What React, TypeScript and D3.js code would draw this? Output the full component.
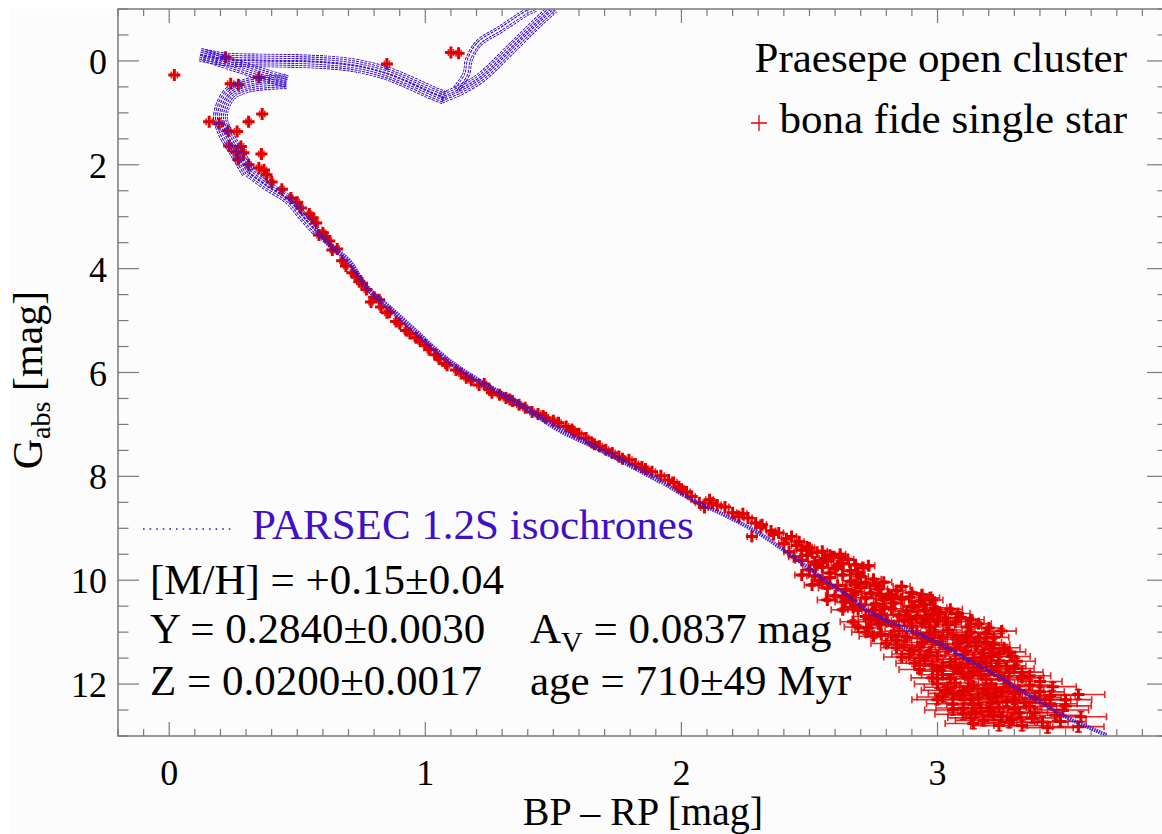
import React from "react";
import * as d3 from "d3";

const width = 1162;
const height = 834;
const plot = { left: 118, top: 9, right: 1168, bottom: 736 };

const xTicks = [0, 1, 2, 3];
const yTicks = [0, 2, 4, 6, 8, 10, 12];

// PARSEC isochrone band, pieces of [BP-RP, G_abs]
const isoLowerMS = [[3.66, 12.98], [3.5, 12.63], [3.37, 12.25], [3.2, 11.75], [3.07, 11.4], [2.98, 11.15], [2.86, 10.9], [2.74, 10.63], [2.65, 10.3], [2.56, 9.99], [2.45, 9.6], [2.3, 9.09], [2.17, 8.75], [2.04, 8.45], [1.92, 8.1]];
const isoMidMS = [[1.92, 8.1], [1.784, 7.74], [1.65, 7.4], [1.522, 7.1], [1.417, 6.76], [1.32, 6.47], [1.222, 6.2], [1.12, 5.88], [1.027, 5.51], [0.964, 5.22], [0.87, 4.8], [0.769, 4.35], [0.7, 3.85], [0.64, 3.6], [0.574, 3.28]];
const isoUpperMS = [[0.574, 3.28], [0.52, 2.98], [0.468, 2.68], [0.38, 2.4], [0.31, 2.15]];
const isoTurnoff = [[0.31, 2.15], [0.265, 1.77], [0.22, 1.4], [0.2, 1.1], [0.21, 0.85], [0.24, 0.62], [0.3, 0.48], [0.38, 0.42], [0.46, 0.4]];
const isoHook = [[0.46, 0.4], [0.36, 0.25], [0.24, 0.06], [0.13, -0.12]];
const isoSubgiant = [[0.12, -0.12], [0.22, -0.03], [0.35, -0.01], [0.48, 0.0], [0.62, 0.03], [0.74, 0.1], [0.85, 0.24], [0.94, 0.42], [1.02, 0.6], [1.08, 0.72]];
const isoRgb = [[1.06, 0.72], [1.14, 0.55], [1.22, 0.31], [1.33, -0.21], [1.42, -0.65], [1.5, -1.02]];
const isoAgb = [[1.12, 0.55], [1.16, 0.25], [1.17, -0.02], [1.21, -0.35], [1.29, -0.6], [1.4, -0.95], [1.43, -1.02]];

// stars: [BP-RP, G_abs, err BP-RP, err G]
const turnoffStars = [
  [0.02, 0.27, 0.012, 0.004], [0.22, -0.07, 0.01, 0.004], [0.85, 0.06, 0.01, 0.004], [0.35, 0.32, 0.01, 0.004],
  [0.24, 0.44, 0.012, 0.004], [0.27, 0.46, 0.012, 0.004], [1.1, -0.16, 0.01, 0.004], [1.13, -0.15, 0.01, 0.004],
  [0.363, 1.02, 0.01, 0.004], [0.156, 1.17, 0.012, 0.004], [0.195, 1.21, 0.012, 0.004], [0.31, 1.17, 0.01, 0.004],
  [0.23, 1.35, 0.01, 0.004], [0.265, 1.36, 0.01, 0.004], [0.234, 1.64, 0.01, 0.004], [0.28, 1.65, 0.01, 0.004],
  [0.26, 1.75, 0.01, 0.004], [0.29, 1.77, 0.01, 0.004], [0.36, 1.79, 0.01, 0.004], [0.27, 1.9, 0.01, 0.004],
  [0.31, 2.0, 0.01, 0.004], [0.37, 2.1, 0.01, 0.004], [0.35, 2.06, 0.01, 0.004], [0.38, 2.19, 0.01, 0.004],
];

const upperMsStars = [
  [0.4, 2.33, 0.008, 0.004], [0.44, 2.47, 0.008, 0.004], [0.475, 2.64, 0.008, 0.004], [0.5, 2.72, 0.008, 0.004],
  [0.515, 2.83, 0.008, 0.004], [0.547, 2.95, 0.008, 0.004], [0.56, 3.02, 0.008, 0.004], [0.574, 3.12, 0.008, 0.004],
  [0.585, 3.35, 0.008, 0.004], [0.6, 3.31, 0.008, 0.004], [0.61, 3.38, 0.008, 0.004], [0.625, 3.47, 0.008, 0.004],
  [0.637, 3.64, 0.008, 0.004], [0.656, 3.62, 0.008, 0.004], [0.675, 3.85, 0.008, 0.004], [0.69, 3.95, 0.008, 0.004],
  [0.715, 4.08, 0.008, 0.004], [0.73, 4.15, 0.008, 0.004], [0.742, 4.25, 0.008, 0.004], [0.753, 4.28, 0.008, 0.004],
  [0.77, 4.4, 0.008, 0.004], [0.788, 4.64, 0.008, 0.004], [0.8, 4.55, 0.008, 0.004], [0.82, 4.6, 0.008, 0.004],
  [0.827, 4.74, 0.008, 0.004], [0.85, 4.85, 0.008, 0.004], [0.86, 4.84, 0.008, 0.004], [0.886, 5.02, 0.008, 0.004],
  [0.9, 5.06, 0.008, 0.004], [0.925, 5.19, 0.008, 0.004], [0.94, 5.25, 0.008, 0.004], [0.964, 5.33, 0.008, 0.004],
  [0.98, 5.4, 0.008, 0.004], [1.0, 5.47, 0.008, 0.004], [1.015, 5.56, 0.008, 0.004], [1.04, 5.66, 0.008, 0.004],
  [1.054, 5.74, 0.008, 0.004], [1.08, 5.82, 0.008, 0.004], [1.085, 5.86, 0.008, 0.004], [1.12, 5.95, 0.008, 0.004],
];

const lowerMsStars = [
  [1.14, 6.02, 0.009, 0.004], [1.16, 6.1, 0.009, 0.004], [1.18, 6.15, 0.009, 0.004], [1.21, 6.24, 0.009, 0.004],
  [1.23, 6.22, 0.009, 0.004], [1.25, 6.33, 0.009, 0.004], [1.26, 6.39, 0.009, 0.004], [1.29, 6.43, 0.009, 0.004],
  [1.315, 6.49, 0.009, 0.004], [1.33, 6.52, 0.009, 0.004], [1.34, 6.55, 0.009, 0.004], [1.366, 6.62, 0.009, 0.005],
  [1.39, 6.68, 0.009, 0.005], [1.417, 6.76, 0.009, 0.005], [1.44, 6.8, 0.01, 0.005], [1.46, 6.84, 0.01, 0.005],
  [1.47, 6.87, 0.01, 0.005], [1.5, 6.93, 0.01, 0.005], [1.52, 6.97, 0.01, 0.005], [1.55, 7.04, 0.01, 0.005],
  [1.573, 7.1, 0.01, 0.005], [1.58, 7.14, 0.01, 0.005], [1.6, 7.18, 0.01, 0.005], [1.628, 7.26, 0.01, 0.005],
  [1.65, 7.35, 0.011, 0.005], [1.66, 7.38, 0.011, 0.005], [1.68, 7.42, 0.011, 0.005], [1.705, 7.49, 0.011, 0.005],
  [1.73, 7.55, 0.011, 0.005], [1.756, 7.62, 0.012, 0.006], [1.77, 7.66, 0.012, 0.006], [1.795, 7.68, 0.012, 0.006],
  [1.82, 7.76, 0.012, 0.006], [1.846, 7.82, 0.012, 0.006], [1.86, 7.86, 0.012, 0.006], [1.885, 7.91, 0.013, 0.006],
  [1.92, 7.99, 0.013, 0.006], [1.95, 8.07, 0.013, 0.006], [1.97, 8.12, 0.013, 0.006], [1.99, 8.2, 0.014, 0.007],
  [2.0, 8.25, 0.014, 0.007], [2.02, 8.3, 0.014, 0.007], [2.04, 8.39, 0.014, 0.007], [2.07, 8.51, 0.015, 0.007],
  [2.09, 8.6, 0.015, 0.007], [2.11, 8.45, 0.015, 0.007], [2.12, 8.52, 0.015, 0.007], [2.14, 8.55, 0.015, 0.008],
  [2.17, 8.59, 0.015, 0.008], [2.2, 8.7, 0.016, 0.008], [2.225, 8.78, 0.016, 0.008], [2.24, 8.72, 0.016, 0.008],
  [2.26, 8.8, 0.016, 0.008], [2.29, 8.9, 0.017, 0.009], [2.31, 8.98, 0.017, 0.009], [2.315, 8.93, 0.017, 0.009],
  [2.35, 9.05, 0.018, 0.01], [2.36, 9.12, 0.018, 0.01], [2.38, 9.09, 0.018, 0.01], [2.275, 9.16, 0.018, 0.01],
  [2.41, 9.2, 0.019, 0.01], [2.43, 9.16, 0.019, 0.01], [2.46, 9.26, 0.019, 0.011], [2.49, 9.36, 0.02, 0.012],
  [2.51, 9.47, 0.02, 0.012], [2.55, 9.44, 0.02, 0.012], [2.59, 9.55, 0.021, 0.012], [2.62, 9.56, 0.021, 0.012],
  [2.51, 10.09, 0.03, 0.02], [2.63, 10.32, 0.035, 0.02], [2.69, 10.57, 0.04, 0.025],
];

const faintStars = [
  [2.4, 9.3, 0.02, 0.015], [2.45, 9.33, 0.02, 0.015], [2.5, 9.38, 0.02, 0.015], [2.47, 9.42, 0.02, 0.015], [2.53, 9.46, 0.021, 0.015], [2.58, 9.52, 0.021, 0.015], [2.62, 9.5, 0.021, 0.015], [2.42, 9.45, 0.02, 0.015], [2.44, 9.55, 0.021, 0.015],
  [2.49, 9.52, 0.022, 0.016], [2.56, 9.58, 0.022, 0.016], [2.65, 9.6, 0.023, 0.016], [2.73, 9.72, 0.025, 0.018], [2.61, 9.72, 0.025, 0.018], [2.53, 9.7, 0.025, 0.018], [2.69, 9.88, 0.027, 0.02], [2.58, 9.86, 0.027, 0.02], [2.47, 9.9, 0.027, 0.02],
  [2.47, 9.62, 0.025, 0.02], [2.52, 9.65, 0.025, 0.02], [2.57, 9.63, 0.025, 0.02], [2.63, 9.68, 0.025, 0.02], [2.68, 9.7, 0.026, 0.02], [2.55, 9.75, 0.026, 0.02], [2.6, 9.78, 0.026, 0.02], [2.5, 9.8, 0.026, 0.02], [2.71, 9.76, 0.026, 0.02], [2.66, 9.82, 0.027, 0.02],
  [2.52, 9.92, 0.03, 0.02], [2.58, 9.95, 0.03, 0.02], [2.63, 9.9, 0.03, 0.02], [2.7, 9.93, 0.03, 0.02], [2.75, 9.98, 0.03, 0.02], [2.66, 10.02, 0.03, 0.02], [2.72, 10.05, 0.031, 0.022], [2.79, 10.04, 0.031, 0.022], [2.55, 10.06, 0.031, 0.022], [2.61, 10.1, 0.032, 0.022],
  [2.54, 10.0, 0.03, 0.02], [2.68, 10.08, 0.031, 0.022], [2.76, 10.1, 0.032, 0.022], [2.86, 10.12, 0.033, 0.023], [2.82, 10.32, 0.037, 0.026], [2.89, 10.33, 0.037, 0.026], [2.97, 10.34, 0.038, 0.026], [2.68, 10.22, 0.035, 0.024], [2.78, 10.3, 0.036, 0.025], [2.64, 10.42, 0.04, 0.028], [2.57, 10.38, 0.039, 0.027],
  [2.57, 10.15, 0.035, 0.025], [2.64, 10.18, 0.035, 0.025], [2.7, 10.14, 0.035, 0.025], [2.77, 10.17, 0.035, 0.025], [2.84, 10.2, 0.036, 0.025], [2.9, 10.24, 0.036, 0.025], [2.81, 10.27, 0.036, 0.025], [2.74, 10.25, 0.036, 0.025], [2.67, 10.28, 0.037, 0.025], [2.6, 10.3, 0.037, 0.025], [2.94, 10.28, 0.037, 0.025],
  [2.66, 10.38, 0.04, 0.03], [2.72, 10.34, 0.04, 0.03], [2.79, 10.37, 0.04, 0.03], [2.86, 10.36, 0.04, 0.03], [2.93, 10.4, 0.041, 0.03], [2.98, 10.38, 0.041, 0.03], [2.83, 10.44, 0.041, 0.03], [2.76, 10.46, 0.042, 0.03], [2.7, 10.48, 0.042, 0.03], [2.9, 10.5, 0.043, 0.03], [2.95, 10.47, 0.043, 0.03],
];

const blobStars = [
  [2.63, 10.57, 0.045, 0.035], [2.75, 10.58, 0.045, 0.035], [2.82, 10.55, 0.045, 0.035], [2.88, 10.6, 0.046, 0.035], [2.95, 10.58, 0.046, 0.035], [3.01, 10.62, 0.046, 0.035], [3.05, 10.56, 0.047, 0.035], [2.78, 10.66, 0.047, 0.035], [2.85, 10.68, 0.047, 0.035], [2.92, 10.7, 0.048, 0.035], [2.98, 10.67, 0.048, 0.035], [2.72, 10.7, 0.048, 0.035],
  [2.67, 10.52, 0.045, 0.035], [2.79, 10.52, 0.045, 0.035], [2.91, 10.52, 0.045, 0.035], [2.99, 10.53, 0.046, 0.035], [3.08, 10.64, 0.047, 0.036], [3.03, 10.73, 0.048, 0.037], [2.76, 10.74, 0.048, 0.037], [2.89, 10.75, 0.048, 0.037], [2.96, 10.74, 0.048, 0.037], [3.09, 10.72, 0.048, 0.037], [3.16, 10.84, 0.05, 0.04], [2.77, 10.85, 0.05, 0.04], [2.73, 10.92, 0.052, 0.04],
  [2.67, 10.8, 0.05, 0.04], [2.74, 10.76, 0.05, 0.04], [2.8, 10.8, 0.05, 0.04], [2.87, 10.78, 0.05, 0.04], [2.94, 10.82, 0.051, 0.04], [3.0, 10.79, 0.051, 0.04], [3.07, 10.8, 0.051, 0.04], [3.13, 10.76, 0.052, 0.04], [2.83, 10.87, 0.052, 0.04], [2.9, 10.88, 0.052, 0.04], [2.97, 10.9, 0.053, 0.04], [3.04, 10.86, 0.053, 0.04], [3.12, 10.9, 0.053, 0.04], [3.2, 10.92, 0.054, 0.04], [2.69, 10.9, 0.054, 0.04],
  [2.72, 11.0, 0.055, 0.045], [2.78, 11.04, 0.055, 0.045], [2.85, 10.98, 0.055, 0.045], [2.92, 11.02, 0.056, 0.045], [2.99, 11.0, 0.056, 0.045], [3.06, 11.05, 0.056, 0.045], [3.13, 11.0, 0.057, 0.045], [3.19, 11.03, 0.057, 0.045], [3.25, 10.98, 0.057, 0.045], [2.88, 11.1, 0.058, 0.045], [2.95, 11.12, 0.058, 0.045], [3.02, 11.1, 0.058, 0.045], [3.09, 11.14, 0.059, 0.045], [3.16, 11.12, 0.059, 0.045],
  [2.75, 11.08, 0.056, 0.045], [2.82, 11.06, 0.056, 0.045], [2.96, 11.06, 0.057, 0.045], [3.04, 10.96, 0.056, 0.045], [3.11, 11.08, 0.057, 0.045], [3.22, 11.1, 0.058, 0.045], [2.84, 11.16, 0.059, 0.047], [2.98, 11.18, 0.059, 0.047], [3.12, 11.18, 0.06, 0.047], [3.19, 11.2, 0.06, 0.047], [2.84, 11.3, 0.062, 0.05], [2.93, 11.29, 0.062, 0.05], [3.07, 11.3, 0.062, 0.05], [3.21, 11.33, 0.063, 0.05], [3.28, 11.38, 0.064, 0.05],
  [2.8, 11.22, 0.06, 0.05], [2.87, 11.25, 0.06, 0.05], [2.94, 11.2, 0.06, 0.05], [3.01, 11.24, 0.061, 0.05], [3.08, 11.22, 0.061, 0.05], [3.15, 11.27, 0.061, 0.05], [3.22, 11.24, 0.062, 0.05], [3.26, 11.3, 0.062, 0.05], [2.9, 11.35, 0.063, 0.05], [2.97, 11.38, 0.063, 0.05], [3.04, 11.33, 0.064, 0.05], [3.11, 11.36, 0.064, 0.05], [3.18, 11.4, 0.065, 0.05], [3.24, 11.42, 0.065, 0.05],
  [2.86, 11.48, 0.07, 0.06], [2.93, 11.5, 0.07, 0.06], [3.0, 11.46, 0.07, 0.06], [3.07, 11.52, 0.071, 0.06], [3.14, 11.5, 0.071, 0.06], [3.21, 11.47, 0.071, 0.06], [3.29, 11.47, 0.072, 0.06], [2.91, 11.6, 0.072, 0.06], [2.98, 11.63, 0.073, 0.06], [3.05, 11.58, 0.073, 0.06], [3.12, 11.62, 0.074, 0.06], [3.19, 11.6, 0.074, 0.06], [3.27, 11.65, 0.075, 0.06],
  [2.89, 11.42, 0.068, 0.055], [2.96, 11.44, 0.068, 0.055], [3.1, 11.43, 0.068, 0.055], [3.17, 11.55, 0.072, 0.06], [3.24, 11.55, 0.072, 0.06], [3.31, 11.56, 0.072, 0.06], [2.95, 11.55, 0.072, 0.06], [3.02, 11.66, 0.075, 0.062], [3.09, 11.67, 0.075, 0.062], [3.16, 11.68, 0.076, 0.062], [3.23, 11.66, 0.076, 0.062], [3.3, 11.7, 0.077, 0.063],
  [2.93, 11.72, 0.08, 0.07], [3.0, 11.75, 0.08, 0.07], [3.07, 11.7, 0.08, 0.07], [3.14, 11.76, 0.081, 0.07], [3.21, 11.73, 0.081, 0.07], [3.28, 11.78, 0.082, 0.07], [3.36, 11.84, 0.082, 0.07], [2.98, 11.88, 0.083, 0.07], [3.05, 11.9, 0.083, 0.07], [3.12, 11.86, 0.084, 0.07], [3.19, 11.9, 0.084, 0.07], [3.26, 11.92, 0.085, 0.07], [3.33, 11.88, 0.085, 0.07],
  [3.02, 11.82, 0.082, 0.07], [3.1, 11.8, 0.082, 0.07], [3.17, 11.82, 0.082, 0.07], [3.24, 11.84, 0.083, 0.07], [3.33, 11.77, 0.082, 0.07], [3.4, 11.95, 0.086, 0.075],
  [3.0, 12.0, 0.09, 0.08], [3.07, 11.98, 0.09, 0.08], [3.14, 12.03, 0.09, 0.08], [3.21, 12.0, 0.091, 0.08], [3.28, 12.05, 0.091, 0.08], [3.36, 12.02, 0.092, 0.08], [3.45, 12.05, 0.092, 0.08], [3.03, 12.12, 0.093, 0.08], [3.1, 12.14, 0.093, 0.08], [3.18, 12.1, 0.094, 0.08], [3.25, 12.15, 0.094, 0.08], [3.32, 12.12, 0.095, 0.08], [3.4, 12.15, 0.095, 0.08],
  [3.04, 12.06, 0.092, 0.08], [3.12, 12.07, 0.092, 0.08], [3.22, 12.08, 0.093, 0.08], [3.3, 12.18, 0.096, 0.085], [3.44, 12.22, 0.097, 0.085], [3.06, 12.18, 0.096, 0.085], [3.13, 12.3, 0.1, 0.09], [3.2, 12.2, 0.097, 0.085], [3.27, 12.33, 0.1, 0.09], [3.34, 12.36, 0.102, 0.09], [3.42, 12.3, 0.1, 0.09], [3.0, 12.3, 0.1, 0.09], [3.1, 12.46, 0.106, 0.095],
  [3.02, 12.25, 0.1, 0.09], [3.09, 12.22, 0.1, 0.09], [3.16, 12.27, 0.1, 0.09], [3.23, 12.24, 0.101, 0.09], [3.3, 12.3, 0.101, 0.09], [3.38, 12.26, 0.102, 0.09], [3.5, 12.3, 0.102, 0.09], [3.55, 12.2, 0.103, 0.09], [3.06, 12.38, 0.103, 0.09], [3.14, 12.4, 0.104, 0.09], [3.21, 12.36, 0.104, 0.09], [3.36, 12.43, 0.105, 0.09], [3.44, 12.38, 0.105, 0.09],
  [3.17, 12.46, 0.106, 0.095], [3.24, 12.45, 0.106, 0.095], [3.3, 12.48, 0.107, 0.095], [3.38, 12.55, 0.108, 0.1], [3.46, 12.6, 0.1, 0.1], [3.15, 12.55, 0.108, 0.1], [3.22, 12.6, 0.109, 0.1], [3.37, 12.65, 0.1, 0.1], [3.29, 12.68, 0.11, 0.1], [3.48, 12.72, 0.1, 0.1], [3.14, 12.76, 0.11, 0.1], [3.24, 12.8, 0.11, 0.1], [3.5, 12.42, 0.1, 0.1],
  [3.06, 12.5, 0.11, 0.1], [3.13, 12.65, 0.09, 0.12], [3.2, 12.52, 0.11, 0.1], [3.25, 12.63, 0.1, 0.1], [3.32, 12.55, 0.11, 0.1], [3.49, 12.5, 0.1, 0.1], [3.56, 12.63, 0.1, 0.1], [3.41, 12.73, 0.1, 0.1], [3.43, 12.84, 0.1, 0.1], [3.33, 12.8, 0.11, 0.1], [3.1, 12.58, 0.11, 0.1], [3.18, 12.7, 0.11, 0.1], [3.55, 12.82, 0.1, 0.1], [3.28, 12.74, 0.11, 0.1],
];

const isoColor = "#4010c8";
const starColor = "#e00000";
const axisColor = "#7a7a7a";

export default function App() {
  const x = d3.scaleLinear().domain([-0.2, 3.9]).range([plot.left, plot.right]);
  const y = d3.scaleLinear().domain([-1, 13]).range([plot.top, plot.bottom]);
  const line = d3
    .line<number[]>()
    .x((d) => x(d[0]))
    .y((d) => y(d[1]))
    .curve(d3.curveCatmullRom.alpha(0.5));

  const bandPieces = [
    { pts: isoLowerMS, w: 4 },
    { pts: isoMidMS, w: 5.5 },
    { pts: isoUpperMS, w: 10 },
    { pts: isoTurnoff, w: 15 },
    { pts: isoHook, w: 13 },
    { pts: isoSubgiant, w: 14 },
    { pts: isoRgb, w: 11 },
    { pts: isoAgb, w: 8 },
  ];

  // concentric stripes so the wide band reads as many parallel dotted isochrones
  const stripes = (w: number) => {
    const out: [number, string][] = [];
    for (let s = w; s > 0; s -= 4) {
      out.push([s, "white"]);
      if (s - 2.2 > 0) out.push([s - 2.2, "black"]);
    }
    return out;
  };

  const allStars = [...turnoffStars, ...upperMsStars, ...lowerMsStars, ...faintStars, ...blobStars];
  const cap = 3.5;
  const arm = 6;

  const errPath = (s: number[]) => {
    const [c, g, ec, eg] = s;
    const cx = x(c), cy = y(g);
    const x0 = x(c - ec), x1 = x(c + ec), y0 = y(g - eg), y1 = y(g + eg);
    return `M${x0},${cy}H${x1}M${x0},${cy - cap}V${cy + cap}M${x1},${cy - cap}V${cy + cap}` +
      `M${cx},${y0}V${y1}M${cx - cap},${y0}H${cx + cap}M${cx - cap},${y1}H${cx + cap}`;
  };
  const markPath = (s: number[]) => {
    const cx = x(s[0]), cy = y(s[1]);
    return `M${cx - arm},${cy}H${cx + arm}M${cx},${cy - arm}V${cy + arm}`;
  };

  const xMinor = d3.range(-2, 40).map((i) => i / 10);
  const yMinor = d3.range(-2, 27).map((i) => i / 2);

  return (
    <svg
      width={width}
      height={height}
      style={{ position: "absolute", left: 0, top: 0 }}
      fontFamily="'Liberation Serif', 'Times New Roman', serif"
    >
      <defs>
        <clipPath id="plotClip">
          <rect x={plot.left} y={plot.top} width={plot.right - plot.left} height={plot.bottom - plot.top} />
        </clipPath>
        {bandPieces.map((p, i) =>
          p.w >= 8 ? (
            <mask key={i} id={`band${i}`} maskUnits="userSpaceOnUse" x={0} y={0} width={width} height={height}>
              {stripes(p.w).map(([s, c], j) => (
                <path key={j} d={line(p.pts) || ""} fill="none" stroke={c} strokeWidth={s} />
              ))}
            </mask>
          ) : null
        )}
      </defs>
      <rect x={0} y={0} width={width} height={height} fill="#ffffff" />
      <rect x={10} y={9} width={width - 10} height={height - 9} fill="#fcfcfc" />

      <g clipPath="url(#plotClip)">
        {allStars.map((s, i) => (
          <path key={"e" + i} d={errPath(s)} stroke={starColor} strokeWidth={1.6} strokeOpacity={0.85} fill="none" />
        ))}
        {allStars.map((s, i) => (
          <path key={"m" + i} d={markPath(s)} stroke={starColor} strokeWidth={3} fill="none" />
        ))}
        {bandPieces.map((p, i) =>
          p.w >= 8 ? (
            <path
              key={i}
              d={line(p.pts) || ""}
              fill="none"
              stroke={isoColor}
              strokeWidth={p.w}
              strokeDasharray="3 1"
              mask={`url(#band${i})`}
            />
          ) : (
            <path
              key={i}
              d={line(p.pts) || ""}
              fill="none"
              stroke={isoColor}
              strokeOpacity={0.9}
              strokeWidth={p.w}
              strokeDasharray="1.6 0.8"
            />
          )
        )}
      </g>

      {/* frame and ticks */}
      <rect
        x={plot.left}
        y={plot.top}
        width={plot.right - plot.left}
        height={plot.bottom - plot.top}
        fill="none"
        stroke={axisColor}
        strokeWidth={1.5}
      />
      {xMinor.map((t, i) => {
        const major = Math.abs(t - Math.round(t)) < 1e-6 && xTicks.includes(Math.round(t));
        const len = major ? 14 : 7;
        return (
          <g key={i} stroke={axisColor} strokeWidth={1.2}>
            <line x1={x(t)} x2={x(t)} y1={plot.bottom} y2={plot.bottom - len} />
            <line x1={x(t)} x2={x(t)} y1={plot.top} y2={plot.top + len} />
          </g>
        );
      })}
      {yMinor.map((t, i) => {
        const major = Number.isInteger(t) && t % 2 === 0;
        const len = major ? 21 : 10.5;
        return (
          <g key={i} stroke={axisColor} strokeWidth={1.2}>
            <line x1={plot.left} x2={plot.left + len} y1={y(t)} y2={y(t)} />
            <line x1={plot.right} x2={plot.right - len} y1={y(t)} y2={y(t)} />
          </g>
        );
      })}
      {xTicks.map((t) => (
        <text key={t} x={x(t)} y={785} textAnchor="middle" fontSize={36} fill="#000">
          {t}
        </text>
      ))}
      {yTicks.map((t) => (
        <text key={t} x={107} y={y(t) + 13} textAnchor="end" fontSize={36} fill="#000">
          {t}
        </text>
      ))}

      {/* axis titles */}
      <text x={643} y={825} textAnchor="middle" fontSize={40} fill="#000">
        BP – RP [mag]
      </text>
      <text transform="translate(42,380) rotate(-90)" textAnchor="middle" fontSize={42} fill="#000">
        <tspan>G</tspan>
        <tspan fontSize={28} dy={8}>abs</tspan>
        <tspan dy={-8}> [mag]</tspan>
      </text>

      {/* legend */}
      <text x={1127} y={72} textAnchor="end" fontSize={43} fill="#000">
        Praesepe open cluster
      </text>
      <path d="M751,123H767M759,115V131" stroke={starColor} strokeWidth={1.3} fill="none" />
      <text x={1127} y={133} textAnchor="end" fontSize={43} fill="#000">
        bona fide single star
      </text>

      <line x1={143} x2={235} y1={529} y2={529} stroke={isoColor} strokeWidth={1.6} strokeDasharray="1.6 5" />
      <text x={252} y={539} fontSize={43} fill={isoColor}>
        PARSEC 1.2S isochrones
      </text>
      <text x={150} y={594} fontSize={43} fill="#000">
        [M/H] = +0.15±0.04
      </text>
      <text x={150} y={643} fontSize={43} fill="#000">
        Y = 0.2840±0.0030
      </text>
      <text x={150} y={695} fontSize={43} fill="#000">
        Z = 0.0200±0.0017
      </text>
      <text x={530} y={643} fontSize={43} fill="#000">
        <tspan>A</tspan>
        <tspan fontSize={30} dy={9}>V</tspan>
        <tspan dy={-9}> = 0.0837 mag</tspan>
      </text>
      <text x={530} y={695} fontSize={43} fill="#000">
        age = 710±49 Myr
      </text>
    </svg>
  );
}
